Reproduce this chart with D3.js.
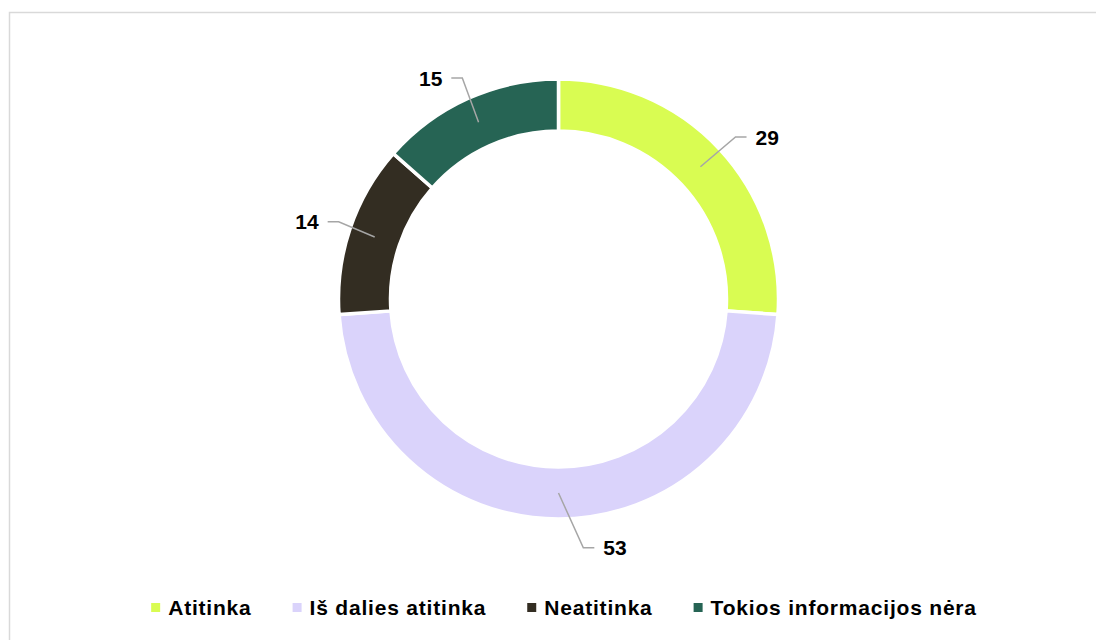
<!DOCTYPE html>
<html>
<head>
<meta charset="utf-8">
<script src="https://cdn.jsdelivr.net/npm/d3@7"></script>
<style>
  body { margin: 0; background: #fff; }
  svg { display: block; }
  .lbl { font-family: "Liberation Sans", Arial, sans-serif; font-weight: bold; font-size: 21px; fill: #000; }
  .leg { font-family: "Liberation Sans", Arial, sans-serif; font-weight: bold; font-size: 21px; fill: #000; letter-spacing: 0.8px; }
</style>
</head>
<body>
<div id="chart"></div>
<script>
// data
var categories = ["Atitinka", "Iš dalies atitinka", "Neatitinka", "Tokios informacijos nėra"];
var values = [29, 53, 14, 15];
var colors = ["#d9fc52", "#dad3fb", "#332d22", "#266454"];

var width = 1096, height = 640;
var cx = 558.5, cy = 299;
var outerR = 220, innerR = 168;

var svg = d3.select("#chart").append("svg")
    .attr("width", width)
    .attr("height", height);

// light frame round the chart area (runs off the right and bottom)
svg.append("rect")
    .attr("x", 9.5)
    .attr("y", 12.5)
    .attr("width", width + 20)
    .attr("height", height + 20)
    .attr("fill", "none")
    .attr("stroke", "#d9d9d9")
    .attr("stroke-width", 1.5);

var pie = d3.pie().sort(null).value(function(d) { return d; });
var arcs = pie(values);

var arc = d3.arc().innerRadius(innerR).outerRadius(outerR);

var g = svg.append("g")
    .attr("transform", "translate(" + cx + "," + cy + ")");

g.selectAll("path.slice")
    .data(arcs)
    .enter().append("path")
    .attr("class", "slice")
    .attr("d", arc)
    .attr("fill", function(d, i) { return colors[i]; })
    .attr("stroke", "#fff")
    .attr("stroke-width", 3.5);

// leader lines + value labels
function polar(r, a) { return [r * Math.sin(a), -r * Math.cos(a)]; }
var midR = (innerR + outerR) / 2;
// small hand nudges so the labels sit where the original put them
var nudgeDeg = [0.5, -5.7, 0.7, 0.8];
var elbowR = [240, 250, 233, 241];

arcs.forEach(function(d, i) {
    var mid = (d.startAngle + d.endAngle) / 2;
    var p0 = polar(midR, mid);
    var p1 = polar(elbowR[i], mid + nudgeDeg[i] * Math.PI / 180);
    var right = p1[0] >= 0;
    var p2 = [p1[0] + (right ? 11 : -11), p1[1]];
    g.append("polyline")
        .attr("points", [p0, p1, p2].map(function(p) { return p.join(","); }).join(" "))
        .attr("fill", "none")
        .attr("stroke", "#a6a6a6")
        .attr("stroke-width", 1.5);
    g.append("text")
        .attr("class", "lbl")
        .attr("x", p2[0] + (right ? 9 : -9))
        .attr("y", p2[1])
        .attr("dy", "0.36em")
        .attr("text-anchor", right ? "start" : "end")
        .text(values[i]);
});

// legend
var legend = svg.append("g").attr("class", "legend");
var items = legend.selectAll("g")
    .data(categories)
    .enter().append("g");

items.append("rect")
    .attr("width", 9)
    .attr("height", 9)
    .attr("y", -4.5)
    .attr("fill", function(d, i) { return colors[i]; });

items.append("text")
    .attr("class", "leg")
    .attr("x", 17)
    .attr("dy", "0.36em")
    .text(function(d) { return d; });

var gap = 41, xs = [], x = 0;
items.each(function() {
    xs.push(x);
    x += 17 + d3.select(this).select("text").node().getComputedTextLength() + gap;
});
var total = x - gap;
var x0 = 564 - total / 2;
items.attr("transform", function(d, i) { return "translate(" + (x0 + xs[i]) + ",607.5)"; });
</script>
</body>
</html>
